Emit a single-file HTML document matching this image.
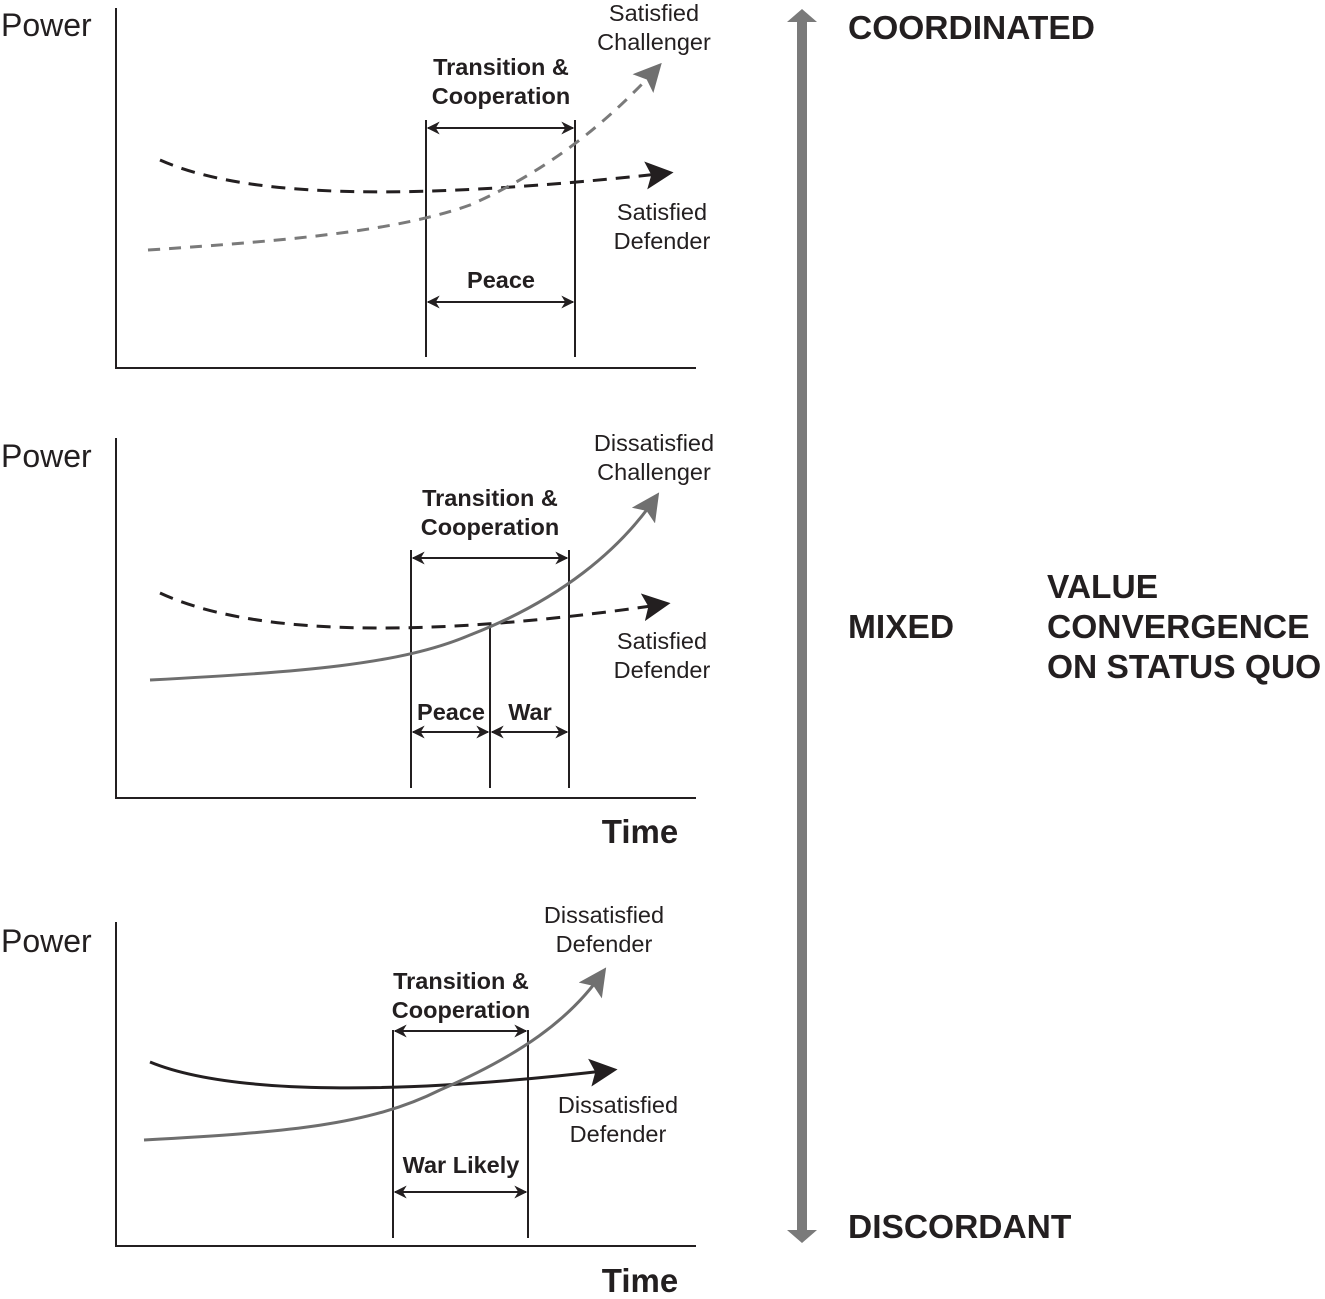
<!DOCTYPE html>
<html><head><meta charset="utf-8"><style>
body{margin:0;background:#fff}
svg{display:block}
text{font-family:"Liberation Sans",Arial,sans-serif;fill:#231f20}
.p{font-size:32px}
.l{font-size:23.5px}
.b{font-size:23.5px;font-weight:bold}
.t{font-size:33px;font-weight:bold}
.r{font-size:33.5px;font-weight:bold}
</style></head><body>
<svg width="1325" height="1299" viewBox="0 0 1325 1299" xmlns="http://www.w3.org/2000/svg">
<defs>
<marker id="ah" viewBox="0 0 10 10" refX="9" refY="5" markerWidth="13" markerHeight="13" markerUnits="userSpaceOnUse" orient="auto-start-reverse"><path d="M0,0 L10,5 L0,10 L3,5z" fill="#231f20"/></marker>
<marker id="bk" viewBox="0 0 10 10" refX="8" refY="5" markerWidth="28" markerHeight="28" markerUnits="userSpaceOnUse" orient="auto"><path d="M0,0 L10,5 L0,10 L2,5z" fill="#231f20"/></marker>
<marker id="gr" viewBox="0 0 10 10" refX="8" refY="5" markerWidth="28" markerHeight="28" markerUnits="userSpaceOnUse" orient="auto"><path d="M0,0 L10,5 L0,10 L2,5z" fill="#707070"/></marker>
</defs>
<g stroke="#231f20" stroke-width="2" fill="none">
<path d="M116,8 V368 H696"/>
<path d="M116,438 V798 H696"/>
<path d="M116,922 V1246 H696"/>
<path d="M426,120 V357 M575,120 V357"/>
<path d="M411,550 V788 M490,625 V788 M569,550 V788"/>
<path d="M393,1030 V1238 M528,1030 V1238"/>
</g>
<g stroke="#231f20" stroke-width="2" marker-start="url(#ah)" marker-end="url(#ah)">
<line x1="428" y1="128" x2="573" y2="128"/>
<line x1="428" y1="302" x2="573" y2="302"/>
<line x1="413" y1="558" x2="567" y2="558"/>
<line x1="413" y1="732" x2="488" y2="732"/>
<line x1="492" y1="732" x2="567" y2="732"/>
<line x1="395" y1="1031" x2="526" y2="1031"/>
<line x1="395" y1="1192" x2="526" y2="1192"/>
</g>
<path d="M160,160 C250,200 420,200 668,173" stroke="#231f20" stroke-width="3" stroke-dasharray="14,9" fill="none" marker-end="url(#bk)"/>
<path d="M148,250 C300,240 400,230 470,205 C550,170 610,120 658,67" stroke="#7a7a7a" stroke-width="3" stroke-dasharray="12,9" fill="none" marker-end="url(#gr)"/>
<path d="M160,593 C250,635 420,640 665,604" stroke="#231f20" stroke-width="3" stroke-dasharray="14,9" fill="none" marker-end="url(#bk)"/>
<path d="M150,680 C300,672 400,665 470,635 C560,600 620,550 656,497" stroke="#6e6e6e" stroke-width="3" fill="none" marker-end="url(#gr)"/>
<path d="M150,1062 C230,1095 400,1095 612,1070" stroke="#231f20" stroke-width="3" fill="none" marker-end="url(#bk)"/>
<path d="M144,1140 C290,1132 370,1125 440,1090 C520,1055 570,1020 603,972" stroke="#6e6e6e" stroke-width="3" fill="none" marker-end="url(#gr)"/>
<rect x="797" y="20" width="10" height="1212" fill="#7a7a7a"/>
<path d="M802,9 L817,22 L787,22z M802,1243 L817,1230 L787,1230z" fill="#7a7a7a"/>
<text class="p" x="1" y="36">Power</text>
<text class="p" x="1" y="467">Power</text>
<text class="p" x="1" y="952">Power</text>
<text class="l" x="654" y="21" text-anchor="middle">Satisfied</text>
<text class="l" x="654" y="50" text-anchor="middle">Challenger</text>
<text class="l" x="662" y="220" text-anchor="middle">Satisfied</text>
<text class="l" x="662" y="249" text-anchor="middle">Defender</text>
<text class="b" x="501" y="75" text-anchor="middle">Transition &amp;</text>
<text class="b" x="501" y="104" text-anchor="middle">Cooperation</text>
<text class="b" x="501" y="288" text-anchor="middle">Peace</text>
<text class="l" x="654" y="451" text-anchor="middle">Dissatisfied</text>
<text class="l" x="654" y="480" text-anchor="middle">Challenger</text>
<text class="l" x="662" y="649" text-anchor="middle">Satisfied</text>
<text class="l" x="662" y="678" text-anchor="middle">Defender</text>
<text class="b" x="490" y="506" text-anchor="middle">Transition &amp;</text>
<text class="b" x="490" y="535" text-anchor="middle">Cooperation</text>
<text class="b" x="451" y="720" text-anchor="middle">Peace</text>
<text class="b" x="530" y="720" text-anchor="middle">War</text>
<text class="t" x="640" y="843" text-anchor="middle">Time</text>
<text class="l" x="604" y="923" text-anchor="middle">Dissatisfied</text>
<text class="l" x="604" y="952" text-anchor="middle">Defender</text>
<text class="l" x="618" y="1113" text-anchor="middle">Dissatisfied</text>
<text class="l" x="618" y="1142" text-anchor="middle">Defender</text>
<text class="b" x="461" y="989" text-anchor="middle">Transition &amp;</text>
<text class="b" x="461" y="1018" text-anchor="middle">Cooperation</text>
<text class="b" x="461" y="1173" text-anchor="middle">War Likely</text>
<text class="t" x="640" y="1292" text-anchor="middle">Time</text>
<text class="r" x="848" y="39">COORDINATED</text>
<text class="r" x="848" y="638">MIXED</text>
<text class="r" x="848" y="1238">DISCORDANT</text>
<text class="r" x="1047" y="598">VALUE</text>
<text class="r" x="1047" y="638">CONVERGENCE</text>
<text class="r" x="1047" y="678">ON STATUS QUO</text>
</svg>
</body></html>
